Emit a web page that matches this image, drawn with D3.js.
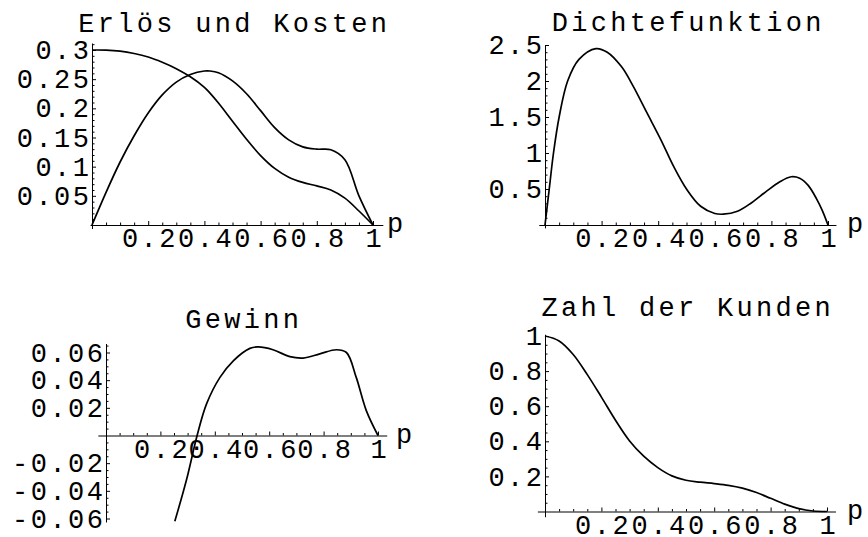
<!DOCTYPE html>
<html>
<head>
<meta charset="utf-8">
<script src="https://cdn.jsdelivr.net/npm/d3@7"></script>
<style>
  html, body { margin: 0; padding: 0; background: #fff; }
  svg { display: block; }
</style>
</head>
<body>
<svg id="chart" width="868" height="537"></svg>
<script>
// Preis p und die vier Funktionen
const pErloes = [0, 0.05, 0.1, 0.15, 0.2, 0.25, 0.3, 0.35, 0.4, 0.42, 0.45, 0.5, 0.55, 0.6, 0.65, 0.7, 0.75, 0.8, 0.85, 0.9, 0.95, 1];
const erloes  = [0, 0.056, 0.108, 0.153, 0.192, 0.223, 0.245, 0.258, 0.264, 0.264, 0.261, 0.247, 0.225, 0.196, 0.167, 0.146, 0.134, 0.13, 0.129, 0.112, 0.05, 0];
const kosten  = [0.3, 0.2998, 0.298, 0.294, 0.288, 0.279, 0.268, 0.254, 0.236, 0.226, 0.209, 0.178, 0.147, 0.119, 0.097, 0.082, 0.073, 0.067, 0.06, 0.046, 0.024, 0];

const pDichte = [0, 0.015, 0.03, 0.05, 0.08, 0.12, 0.18, 0.22, 0.27, 0.31, 0.36, 0.41, 0.455, 0.5, 0.55, 0.6, 0.63, 0.68, 0.73, 0.78, 0.83, 0.87, 0.9, 0.93, 0.96, 0.98, 1];
const dichte  = [0, 0.5, 1.0, 1.5, 2.0, 2.3, 2.45, 2.4, 2.2, 1.94, 1.56, 1.18, 0.81, 0.5, 0.26, 0.16, 0.15, 0.19, 0.31, 0.46, 0.6, 0.67, 0.65, 0.55, 0.36, 0.2, 0];

const pGewinn = [0.253, 0.296, 0.335, 0.37, 0.419, 0.468, 0.529, 0.559, 0.614, 0.676, 0.725, 0.786, 0.847, 0.884, 0.92, 0.957, 1];
const gewinn  = [-0.062, -0.032, 0, 0.023, 0.042, 0.054, 0.063, 0.064, 0.062, 0.057, 0.056, 0.059, 0.062, 0.06, 0.042, 0.018, 0];

const pKunden = [0, 0.05, 0.1, 0.15, 0.2, 0.25, 0.3, 0.35, 0.4, 0.45, 0.5, 0.55, 0.6, 0.65, 0.7, 0.75, 0.8, 0.85, 0.9, 0.95, 1];
const kunden  = [1.0, 0.972, 0.895, 0.78, 0.652, 0.52, 0.402, 0.315, 0.25, 0.203, 0.178, 0.167, 0.159, 0.149, 0.133, 0.108, 0.075, 0.042, 0.016, 0.003, 0];

// Achsenbeschriftung
const titles = ["Erlös und Kosten", "Dichtefunktion", "Gewinn", "Zahl der Kunden"];
const xAxisLabel = "p";
const xTickValues = [0.2, 0.4, 0.6, 0.8, 1];
const xTickLabels = ["0.2", "0.4", "0.6", "0.8", "1"];
const yTicksErloes = [0.05, 0.1, 0.15, 0.2, 0.25, 0.3];
const yLabelsErloes = ["0.05", "0.1", "0.15", "0.2", "0.25", "0.3"];
const yTicksDichte = [0.5, 1, 1.5, 2, 2.5];
const yLabelsDichte = ["0.5", "1", "1.5", "2", "2.5"];
const yTicksGewinn = [-0.06, -0.04, -0.02, 0.02, 0.04, 0.06];
const yLabelsGewinn = ["-0.06", "-0.04", "-0.02", "0.02", "0.04", "0.06"];
const yTicksKunden = [0.2, 0.4, 0.6, 0.8, 1];
const yLabelsKunden = ["0.2", "0.4", "0.6", "0.8", "1"];

const FONT = "'Liberation Mono', 'DejaVu Sans Mono', monospace";
const FS = 27;
const TICK_LS = 2.5;
const TITLE_LS = 3.3;

// Panel layout: pixel positions of p=0 / p=1, of y=0 / y=yTop, axis extents in data units
const panels = [
  { title: titles[0], x0: 92, x1: 373, yPx0: 225, yTop: 0.3, yPxTop: 50,
    xExt: [-0.007, 1.035], yExt: [-0.006, 0.312], titleY: 32, pLabelX: 387,
    yTicks: yTicksErloes, yLabels: yLabelsErloes, yMinor: 0.01,
    series: [[pErloes, erloes], [pErloes, kosten]] },
  { title: titles[1], x0: 545, x1: 828, yPx0: 225, yTop: 2.5, yPxTop: 45,
    xExt: [-0.022, 1.028], yExt: [-0.04, 2.5], titleY: 31, pLabelX: 847,
    yTicks: yTicksDichte, yLabels: yLabelsDichte, yMinor: 0.1,
    series: [[pDichte, dichte]] },
  { title: titles[2], x0: 106, x1: 378, yPx0: 435.5, yTop: 0.06, yPxTop: 352.5,
    xExt: [-0.03, 1.032], yExt: [-0.0625, 0.0665], titleY: 328, pLabelX: 396,
    yTicks: yTicksGewinn, yLabels: yLabelsGewinn, yMinor: 0.005,
    series: [[pGewinn, gewinn]] },
  { title: titles[3], x0: 545, x1: 827, yPx0: 511.5, yTop: 1, yPxTop: 336,
    xExt: [-0.027, 1.03], yExt: [-0.03, 1.01], titleY: 316, pLabelX: 847,
    yTicks: yTicksKunden, yLabels: yLabelsKunden, yMinor: 0.05,
    series: [[pKunden, kunden]] }
];

const svg = d3.select("#chart");
svg.append("rect").attr("width", 868).attr("height", 537).attr("fill", "#fff");

panels.forEach((cfg, i) => {
  const x = d3.scaleLinear().domain([0, 1]).range([cfg.x0, cfg.x1]);
  const y = d3.scaleLinear().domain([0, cfg.yTop]).range([cfg.yPx0, cfg.yPxTop]);
  // axis scales spanning the drawn axis length
  const xa = d3.scaleLinear().domain(cfg.xExt).range(cfg.xExt.map(x));
  const ya = d3.scaleLinear().domain(cfg.yExt).range(cfg.yExt.map(y));

  const g = svg.append("g").attr("class", "panel panel-" + i);

  // minor ticks
  const xMinor = d3.range(1, 21).map(k => +(k * 0.05).toFixed(4)).filter(v => !xTickValues.includes(v));
  g.append("g").attr("transform", `translate(0,${y(0)})`)
    .call(d3.axisBottom(xa).tickValues(xMinor).tickSize(-2.5).tickFormat(""))
    .call(a => a.select(".domain").remove());

  const n0 = Math.ceil(cfg.yExt[0] / cfg.yMinor), n1 = Math.floor(cfg.yExt[1] / cfg.yMinor);
  const yMinor = d3.range(n0, n1 + 1).map(k => +(k * cfg.yMinor).toFixed(6))
    .filter(v => v !== 0 && !cfg.yTicks.some(t => Math.abs(t - v) < 1e-9));
  g.append("g").attr("transform", `translate(${x(0)},0)`)
    .call(d3.axisLeft(ya).tickValues(yMinor).tickSize(-2.5).tickFormat(""))
    .call(a => a.select(".domain").remove());

  // x axis with labels
  const xAxis = g.append("g").attr("transform", `translate(0,${y(0)})`)
    .call(d3.axisBottom(xa).tickValues(xTickValues).tickSize(-4).tickSizeOuter(0).tickPadding(3)
      .tickFormat((d, k) => xTickLabels[k]));
  xAxis.selectAll("text").attr("dx", TICK_LS / 2);

  // y axis with labels
  const yAxis = g.append("g").attr("transform", `translate(${x(0)},0)`)
    .call(d3.axisLeft(ya).tickValues(cfg.yTicks).tickSize(-4).tickSizeOuter(0).tickPadding(0.5)
      .tickFormat((d, k) => cfg.yLabels[k]));

  [xAxis, yAxis].forEach(a => {
    a.select(".domain").attr("stroke", "#000").attr("stroke-width", 1);
    a.selectAll("text").attr("font-family", FONT).attr("font-size", FS)
      .attr("letter-spacing", TICK_LS).attr("fill", "#000");
  });
  g.selectAll(".tick line").attr("stroke", "#000").attr("stroke-width", 1);

  // axis label p
  g.append("text").attr("x", cfg.pLabelX).attr("y", y(0) + 7)
    .attr("font-family", FONT).attr("font-size", FS).attr("fill", "#000")
    .text(xAxisLabel);

  // title
  g.append("text").attr("x", x(0.5) + TITLE_LS / 2).attr("y", cfg.titleY)
    .attr("text-anchor", "middle").attr("font-family", FONT).attr("font-size", FS)
    .attr("letter-spacing", TITLE_LS).attr("fill", "#000")
    .text(cfg.title);

  // curves
  const line = d3.line().x(d => x(d[0])).y(d => y(d[1])).curve(d3.curveCatmullRom.alpha(0.5));
  cfg.series.forEach(([ps, vs]) => {
    g.append("path").datum(ps.map((p, k) => [p, vs[k]]))
      .attr("d", line).attr("fill", "none").attr("stroke", "#000")
      .attr("stroke-width", 1.7).attr("stroke-linejoin", "round");
  });
});
</script>
</body>
</html>
